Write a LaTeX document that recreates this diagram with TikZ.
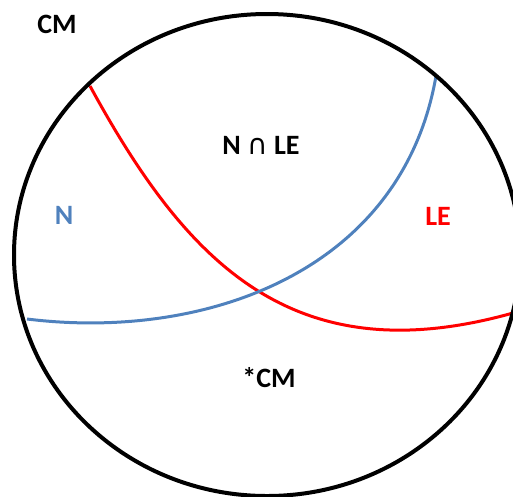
\documentclass[tikz,border=0pt]{standalone}
\usepackage{fontspec}
\setmainfont{Carlito}
\newfontfamily\symfont{DejaVu Sans}
\definecolor{nblue}{HTML}{4F81BD}
\definecolor{lered}{HTML}{FF0000}
\begin{document}
\begin{tikzpicture}[x=1pt,y=-1pt,
  lbl/.style={font=\fontsize{28}{32}\selectfont\bfseries, inner sep=0pt},
  outline/.style={line width=4pt, black},
  setline/.style={line width=3pt}]
\useasboundingbox (0,0) rectangle (513,496);
\coordinate (r0) at (90,86);
\coordinate (r3) at (513,313);
\coordinate (b0) at (27,319);
\coordinate (b3) at (436,76);
\begin{scope}
  \clip (267,255) ellipse [x radius=253, y radius=241];
  \draw[setline, lered] (r0) .. controls (186,262) and (292,375) .. (r3);
  \draw[setline, nblue] (b0) .. controls (205,341) and (402,272) .. (b3);
\end{scope}
\draw[outline] (267,255) ellipse [x radius=253, y radius=241];
\node[lbl] (cm) at (57,24) {CM};
\node[lbl] (inter) at (261,145) {N {\mdseries\symfont ∩} LE};
\node[lbl, text=nblue] (n) at (64,215) {N};
\node[lbl, text=lered] (le) at (438,216) {LE};
\node[lbl] (star) at (269,378) {*CM};
\end{tikzpicture}
\end{document}
